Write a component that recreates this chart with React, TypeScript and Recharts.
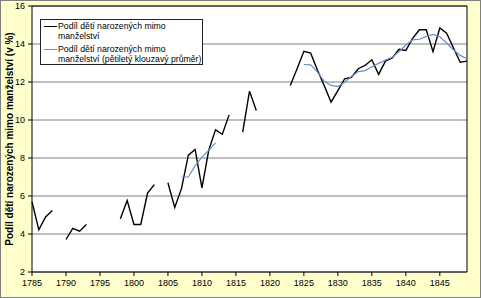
import { LineChart, Line, XAxis, YAxis, CartesianGrid, Legend, ReferenceLine } from 'recharts'

const years = [
  1785, 1786, 1787, 1788, 1789, 1790, 1791, 1792, 1793, 1794,
  1795, 1796, 1797, 1798, 1799, 1800, 1801, 1802, 1803, 1804,
  1805, 1806, 1807, 1808, 1809, 1810, 1811, 1812, 1813, 1814,
  1815, 1816, 1817, 1818, 1819, 1820, 1821, 1822, 1823, 1824,
  1825, 1826, 1827, 1828, 1829, 1830, 1831, 1832, 1833, 1834,
  1835, 1836, 1837, 1838, 1839, 1840, 1841, 1842, 1843, 1844,
  1845, 1846, 1847, 1848, 1849,
]

// podíl dětí narozených mimo manželství (v %), null = chybí údaj
const share = [
  5.7, 4.22, 4.9, 5.24, null, 3.71, 4.3, 4.15, 4.5, null,
  null, null, null, 4.8, 5.76, 4.5, 4.5, 6.15, 6.6, null,
  6.7, 5.4, 6.4, 8.15, 8.45, 6.43, 8.4, 9.48, 9.25, 10.27,
  null, 9.36, 11.52, 10.5, null, null, null, null, 11.82, 12.7,
  13.62, 13.52, 12.62, 11.8, 10.94, 11.55, 12.17, 12.25, 12.7, 12.87,
  13.17, 12.4, 13.1, 13.27, 13.72, 13.66, 14.3, 14.75, 14.75, 13.6,
  14.84, 14.57, 13.8, 13.04, 13.1,
]

// pětiletý klouzavý průměr
const movingAvg = [
  null, null, null, null, null, null, null, null, null, null,
  null, null, null, null, null, null, null, null, null, null,
  null, null, 7.0, 7.0, 7.6, 8.05, 8.4, 8.8, null, null,
  null, null, null, null, null, null, null, null, null, null,
  12.92, 12.9, 12.52, 12.04, 11.82, 11.76, 11.99, 12.29, 12.55, 12.6,
  12.8, 12.98, 13.15, 13.3, 13.6, 13.95, 14.22, 14.25, 14.4, 14.5,
  14.38, 14.05, 13.7, 13.4, 13.22,
]

const xTicks = [1785, 1790, 1795, 1800, 1805, 1810, 1815, 1820, 1825, 1830, 1835, 1840, 1845]
const yTicks = [2, 4, 6, 8, 10, 12, 14, 16]

const seriesNames = [
  'Podíl dětí narozených mimo manželství',
  'Podíl dětí narozených mimo manželství (pětiletý klouzavý průměr)',
]
const yLabel = 'Podíl dětí narozených mimo manželství (v %)'

const data = years.map((year, i) => ({ year, share: share[i], avg: movingAvg[i] }))

const font = '"Liberation Sans", Arial, sans-serif'

function LegendBox() {
  const items = [
    { color: '#000000', lines: ['Podíl dětí narozených mimo', 'manželství'] },
    { color: '#6a8fc6', lines: ['Podíl dětí narozených mimo', 'manželství (pětiletý klouzavý průměr)'] },
  ]
  return (
    <div
      style={{
        width: 163,
        height: 46,
        boxSizing: 'border-box',
        border: '1px solid #222',
        background: '#fff',
        fontFamily: font,
        fontSize: 8.7,
        lineHeight: '10px',
        color: '#000',
        paddingTop: 1,
      }}
    >
      {items.map((item, i) => (
        <div key={i} style={{ display: 'flex', alignItems: 'flex-start', marginBottom: i === 0 ? 3 : 0 }}>
          <div style={{ width: 13, height: 0, borderTop: `1.5px solid ${item.color}`, marginLeft: 3, marginTop: 5, marginRight: 1 }} />
          <div>
            {item.lines.map((l, j) => (
              <div key={j} style={{ whiteSpace: 'nowrap' }}>{l}</div>
            ))}
          </div>
        </div>
      ))}
    </div>
  )
}

function YTitle({ viewBox }: any) {
  const cy = viewBox.y + viewBox.height / 2
  return (
    <text
      x={9}
      y={cy}
      transform={`rotate(-90 9 ${cy})`}
      textAnchor="middle"
      dominantBaseline="central"
      style={{ fontFamily: font, fontSize: 10, fontWeight: 'bold', fill: '#000' }}
    >
      {yLabel}
    </text>
  )
}

export default function App() {
  return (
    <div
      style={{
        position: 'absolute',
        left: 0,
        top: 0,
        width: 481,
        height: 298,
        boxSizing: 'border-box',
        background: '#ffffcc',
        border: '1px solid #808080',
      }}
    >
      <div style={{ position: 'absolute', left: -1, top: -1 }}>
        <LineChart width={481} height={298} data={data} margin={{ top: 6, right: 14, bottom: 6, left: 0 }}>
          <CartesianGrid vertical={false} stroke="#808080" fill="#ffffff" />
          <XAxis
            dataKey="year"
            type="number"
            domain={[1785, 1849]}
            ticks={xTicks}
            interval={0}
            height={20}
            tickSize={4}
            tickMargin={4}
            axisLine={{ stroke: '#000' }}
            tickLine={{ stroke: '#000' }}
            tick={{ fill: '#000', fontSize: 9, fontFamily: font }}
          />
          <YAxis
            domain={[2, 16]}
            ticks={yTicks}
            interval={0}
            width={32}
            tickSize={4}
            tickMargin={3}
            axisLine={{ stroke: '#000' }}
            tickLine={{ stroke: '#000' }}
            tick={{ fill: '#000', fontSize: 9, fontFamily: font }}
            label={{ content: (props: any) => <YTitle {...props} /> }}
          />
          <ReferenceLine y={16} stroke="#000" />
          <ReferenceLine x={1849} stroke="#000" />
          <Legend
            layout="vertical"
            align="center"
            verticalAlign="middle"
            wrapperStyle={{ left: 40, top: 19, width: 163, height: 46 }}
            content={() => <LegendBox />}
          />
          <Line
            dataKey="share"
            name={seriesNames[0]}
            type="linear"
            stroke="#000000"
            strokeWidth={1.4}
            dot={false}
            isAnimationActive={false}
          />
          <Line
            dataKey="avg"
            name={seriesNames[1]}
            type="linear"
            stroke="#6a8fc6"
            strokeWidth={1.2}
            dot={false}
            isAnimationActive={false}
          />
        </LineChart>
      </div>
    </div>
  )
}
